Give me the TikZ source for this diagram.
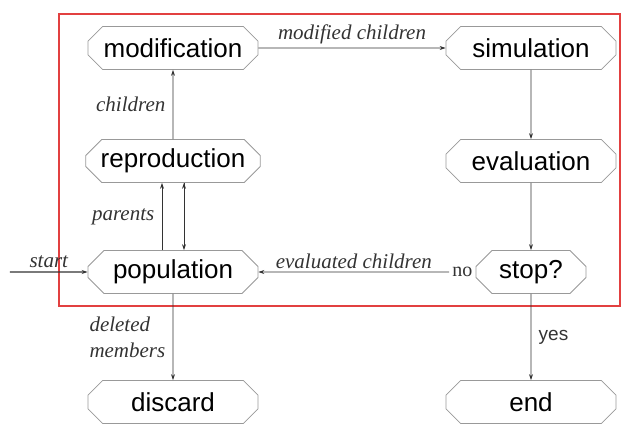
\documentclass[tikz,border=0pt]{standalone}
\usepackage{fontspec}
\setmainfont{Liberation Serif}
\setsansfont{Liberation Sans}
\usetikzlibrary{shapes.misc,positioning,arrows.meta}

\begin{document}
\begin{tikzpicture}[x=1pt,y=1pt,>={Stealth[length=6pt,width=4pt]},on grid,
    block/.style={chamfered rectangle,chamfered rectangle xsep=13pt,
      draw=black!40,line width=0.8pt,minimum width=170pt,minimum height=43pt,
      inner sep=2pt,font=\sffamily\fontsize{26}{28}\selectfont},
    lbl/.style={font=\itshape\fontsize{21}{26}\selectfont,text=black!80}]
  \useasboundingbox (-173,-152) rectangle (449,272);
  \draw[red!85!black!75,line width=1.6pt] (-114,-34) rectangle (447,258);
  \node[block] (pop) {population};
  \node[block] (rep) [above=111pt of pop] {reproduction};
  \node[block] (mod) [above=113pt of rep] {modification};
  \node[block] (disc) [below=130pt of pop] {discard};
  \node[block] (sim) [right=358pt of mod] {simulation};
  \node[block] (eval) [right=358pt of rep] {evaluation};
  \node[block,minimum width=110pt] (stop) [right=358pt of pop] {stop?};
  \node[block] (end) [right=358pt of disc] {end};
  \node[anchor=east,inner sep=3pt,font=\fontsize{20}{22}\selectfont,text=black!80] (no) at (stop.west) {no};
  \coordinate[left=163pt of pop] (in);
  \path[->,draw=black!80,line width=0.7pt]
    (mod) edge node[lbl,above] {modified children} (sim)
    (sim) edge (eval)
    (eval) edge (stop)
    (no) edge node[lbl,above] {evaluated children} (pop)
    (rep) edge node[lbl,left=4pt] {children} (mod)
    ([xshift=-11pt]pop.north) edge node[lbl,left=4pt] {parents} ([xshift=-11pt]rep.south)
    ([xshift=11pt]rep.south) edge ([xshift=11pt]pop.north)
    (pop) edge node[lbl,left=4pt,align=left] {deleted\\members} (disc)
    (stop) edge node[right=4pt,font=\sffamily\fontsize{19}{21}\selectfont,text=black!80] {yes} (end);
  \draw[->,black!80,line width=1.4pt] (in) -- node[lbl,above] {start} (pop);
\end{tikzpicture}
\end{document}
